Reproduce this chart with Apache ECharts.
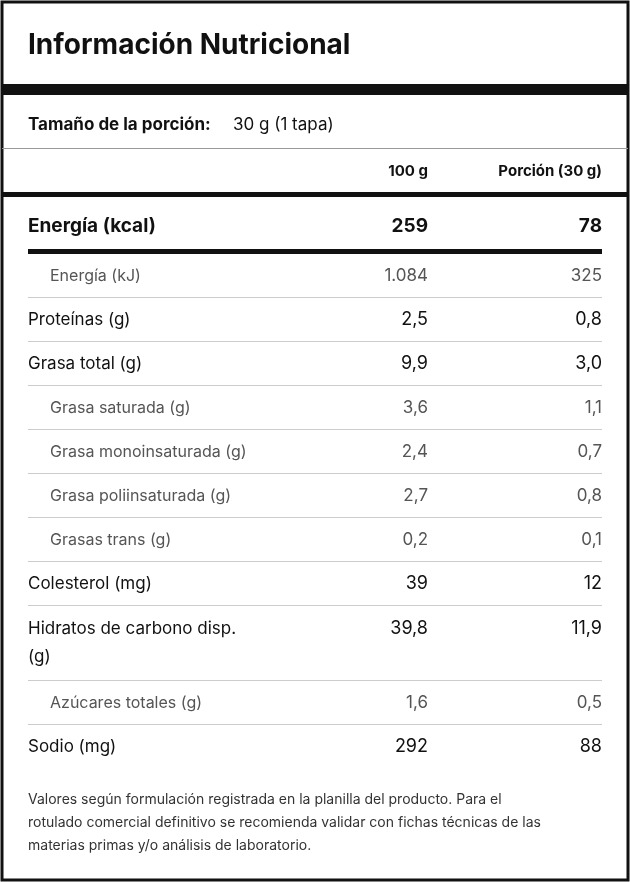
<!DOCTYPE html>
<html><head><meta charset="utf-8">
<script src="https://cdn.jsdelivr.net/npm/echarts@6/dist/echarts.min.js"></script>
<style>html,body{margin:0;padding:0;background:#fff}#c{width:630px;height:882px}</style>
</head><body><div id="c"></div>
<script>
const title = "Información Nutricional";
const servingLabel = "Tamaño de la porción:";
const servingValue = " 30 g (1 tapa)";
const colHeaders = ["100 g", "Porción (30 g)"];
const energyRow = ["Energía (kcal)", "259", "78"];
const rowLabels = ["Energía (kJ)", "Proteínas (g)", "Grasa total (g)", "Grasa saturada (g)", "Grasa monoinsaturada (g)", "Grasa poliinsaturada (g)", "Grasas trans (g)", "Colesterol (mg)", "Hidratos de carbono disp.\n(g)", "Azúcares totales (g)", "Sodio (mg)"];
const per100 = ["1.084", "2,5", "9,9", "3,6", "2,4", "2,7", "0,2", "39", "39,8", "1,6", "292"];
const perServing = ["325", "0,8", "3,0", "1,1", "0,7", "0,8", "0,1", "12", "11,9", "0,5", "88"];
const indented = [true, false, false, true, true, true, true, false, false, true, false];
const footnote = ["Valores según formulación registrada en la planilla del producto. Para el", "rotulado comercial definitivo se recomienda validar con fichas técnicas de las", "materias primas y/o análisis de laboratorio."];

const F = "Inter, 'Noto Sans', sans-serif";
const g = [];
const rect = (x, y, w, h, fill) => g.push({type:'rect', shape:{x, y, width:w, height:h}, style:{fill}});
const text = (x, y, t, o) => g.push({type:'text', x, y, style:Object.assign({text:t, fontFamily:F, fill:'#111', textVerticalAlign:'middle', verticalAlign:'middle'}, o)});

g.push({type:'rect', shape:{x:2, y:2, width:626, height:878}, style:{fill:'none', stroke:'#111', lineWidth:3}});
text(28, 46, title, {fontSize:28, fontWeight:'bold'});
rect(2, 84, 626, 11, '#111');
text(28, 125, servingLabel, {fontSize:17, fontWeight:'bold', rich:{}});
text(28 + 205, 125, servingValue.trim(), {fontSize:17});
rect(2, 148, 626, 1, '#999');
text(428, 171, colHeaders[0], {fontSize:15, fontWeight:'bold', align:'right'});
text(602, 171, colHeaders[1], {fontSize:15, fontWeight:'bold', align:'right'});
rect(2, 192, 626, 5, '#111');
text(28, 226, energyRow[0], {fontSize:19, fontWeight:'bold'});
text(428, 226, energyRow[1], {fontSize:19, fontWeight:'bold', align:'right'});
text(602, 226, energyRow[2], {fontSize:19, fontWeight:'bold', align:'right'});
rect(28, 249, 574, 5, '#111');

let y = 254;
rowLabels.forEach((lab, i) => {
  const multi = lab.includes('\n');
  const h = multi ? 75 : (i === 0 ? 44 : 44);
  const ind = indented[i];
  const col = ind ? '#555' : '#111';
  const fs = ind ? 16 : 17;
  const cy = multi ? y + 23 : y + h / 2;
  if (multi) {
    const parts = lab.split('\n');
    text(28, cy, parts[0], {fontSize:fs, fill:col});
    text(28, cy + 28, parts[1], {fontSize:fs, fill:col});
  } else {
    text(ind ? 50 : 28, cy, lab, {fontSize:fs, fill:col});
  }
  text(428, cy, per100[i], {fontSize:fs + 1, fill:col, align:'right'});
  text(602, cy, perServing[i], {fontSize:fs + 1, fill:col, align:'right'});
  y += h;
  if (i < rowLabels.length - 1) rect(28, y - 1, 574, 1, '#ccc');
});
footnote.forEach((l, i) => text(28, 800 + i * 23, l, {fontSize:14, fill:'#333'}));

const chart = echarts.init(document.getElementById('c'));
chart.setOption({animation:false, graphic:g});
</script></body></html>
